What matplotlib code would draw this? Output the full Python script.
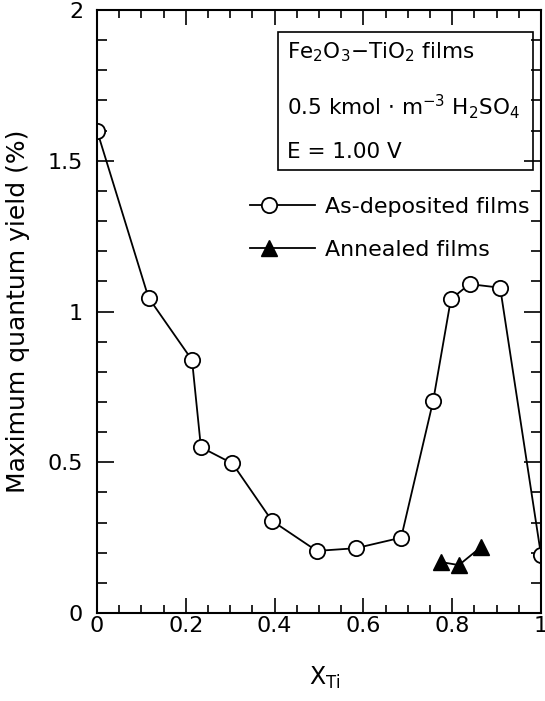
import matplotlib
matplotlib.use("Agg")
import matplotlib.pyplot as plt
from matplotlib.patches import Rectangle
from matplotlib.ticker import MultipleLocator
from matplotlib.legend_handler import HandlerLine2DCompound

#%% ─── Data ─────────────────────────────────────────────────────────────────

x_asdep = [0.0, 0.116, 0.214, 0.234, 0.305, 0.394, 0.495, 0.583, 0.685,
           0.757, 0.797, 0.839, 0.908, 1.0]
y_asdep = [1.60, 1.046, 0.839, 0.550, 0.496, 0.306, 0.206, 0.215, 0.250,
           0.703, 1.041, 1.091, 1.079, 0.192]

x_annealed = [0.775, 0.815, 0.865]
y_annealed = [0.169, 0.159, 0.219]

x_ticks = [0, 0.2, 0.4, 0.6, 0.8, 1]
x_ticklabels = ['0', '0.2', '0.4', '0.6', '0.8', '1']
y_ticks = [0, 0.5, 1, 1.5, 2]
y_ticklabels = ['0', '0.5', '1', '1.5', '2']

box_lines = [r'Fe$_2$O$_3$$-$TiO$_2$ films',
             r'0.5 kmol $\cdot$ m$^{-3}$ H$_2$SO$_4$',
             r'E = 1.00 V']


class MarkerLeft(HandlerLine2DCompound):
    # put the legend marker at ~30% of the handle line instead of the middle
    def get_xdata(self, legend, xdescent, ydescent, width, height, fontsize):
        xdata, _ = super().get_xdata(legend, xdescent, ydescent, width, height, fontsize)
        return xdata, [-xdescent + 0.29 * width]


#%% ─── Figure ───────────────────────────────────────────────────────────────

plt.rcParams['font.family'] = 'DejaVu Sans'
plt.rcParams['mathtext.fontset'] = 'dejavusans'

fig = plt.figure(figsize=(5.45, 7.01), dpi=100)
ax = fig.add_axes([0.178, 0.1255, 0.8147, 0.8602])

l1, = ax.plot(x_asdep, y_asdep, '-o', color='black', lw=1.3, ms=11,
              mfc='white', mec='black', mew=1.3, label='As-deposited films')
l2, = ax.plot(x_annealed, y_annealed, '-^', color='black', lw=1.3, ms=11,
              mfc='black', mec='black', label='Annealed films')

ax.set_xlim(0, 1)
ax.set_ylim(0, 2)
ax.set_xticks(x_ticks)
ax.set_xticklabels(x_ticklabels)
ax.set_yticks(y_ticks)
ax.set_yticklabels(y_ticklabels)
ax.xaxis.set_minor_locator(MultipleLocator(0.05))
ax.yaxis.set_minor_locator(MultipleLocator(0.1))

ax.tick_params(which='both', direction='in', top=True, right=True, width=1.2)
ax.tick_params(axis='x', which='major', length=11, labelsize=16, pad=2)
ax.tick_params(axis='x', which='minor', length=5.5)
ax.tick_params(axis='y', which='major', length=12, labelsize=16, pad=10)
ax.tick_params(axis='y', which='minor', length=7)
for s in ax.spines.values():
    s.set_linewidth(1.5)

ax.set_xlabel(r'X$_{\mathregular{Ti}}$', fontsize=17, labelpad=21)
ax.xaxis.label.set_x(0.512)
ax.set_ylabel('Maximum quantum yield (%)', fontsize=18, labelpad=13)

# text box
ax.add_patch(Rectangle((0.4077, 0.7347), 0.5743, 0.2288, transform=ax.transAxes,
                       fill=False, ec='black', lw=1.2))
for txt, yb in zip(box_lines, [0.920, 0.826, 0.7546]):
    ax.text(0.428, yb, txt, transform=ax.transAxes, fontsize=15.5,
            va='baseline', ha='left')

ax.legend(handles=[l1, l2], loc='upper left', bbox_to_anchor=(0.345, 0.690),
          frameon=False, fontsize=15.9, handlelength=2.94, handletextpad=0.45,
          labelspacing=1.05, borderpad=0, borderaxespad=0,
          handler_map={l1: MarkerLeft(), l2: MarkerLeft()})

fig.savefig('out.png', dpi=100)
